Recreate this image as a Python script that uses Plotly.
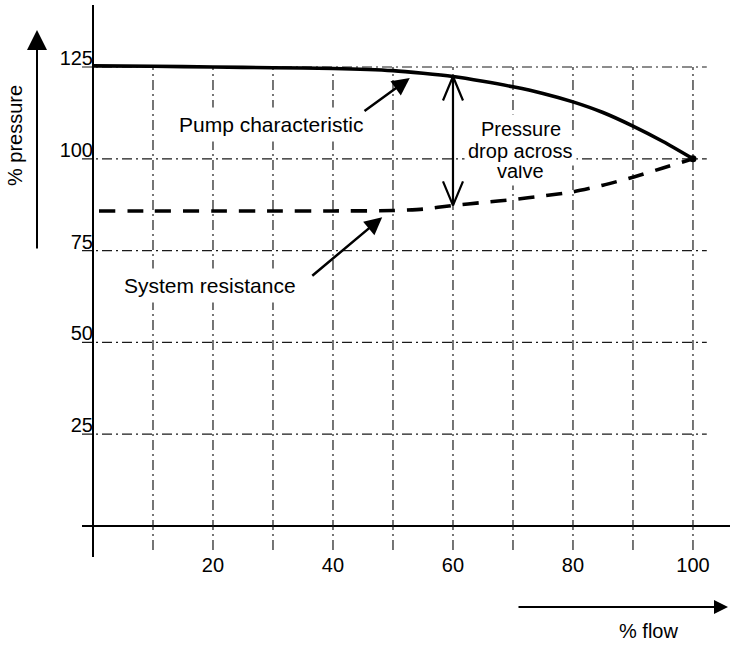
import plotly.graph_objects as go

# ---------------- data ----------------
FLOW_PUMP = [0, 10, 20, 30, 40, 50, 55, 60, 65, 70, 75, 80, 85, 90, 95, 100]
PRESSURE_PUMP = [125.3, 125.2, 125.0, 124.8, 124.6, 124.0, 123.3, 122.4, 121.1,
                 119.6, 117.8, 115.5, 112.6, 108.9, 104.7, 100.0]

FLOW_SYSTEM = [1, 10, 20, 30, 40, 50, 55, 60, 65, 70, 75, 80, 85, 90, 95, 100]
PRESSURE_SYSTEM = [85.8, 85.8, 85.8, 85.8, 85.8, 85.9, 86.3, 87.3, 88.1,
                   88.9, 89.9, 91.0, 92.8, 95.0, 97.5, 100.0]

X_TICKS = [20, 40, 60, 80, 100]
X_TICK_LABELS = ["20", "40", "60", "80", "100"]
Y_TICKS = [25, 50, 75, 100, 125]
Y_TICK_LABELS = ["25", "50", "75", "100", "125"]
X_GRID = [10, 20, 30, 40, 50, 60, 70, 80, 90, 100]
Y_GRID = [25, 50, 75, 100, 125]

VALVE_FLOW = 60

# ---------------- layout constants ----------------
W, H = 730, 647
ML, MR, MT, MB = 82, 0, 5, 90
PW, PH = W - ML - MR, H - MT - MB
X_RANGE = [-1.833, 106.17]
Y_RANGE = [-8.44, 141.88]
FONT = "Liberation Sans, Arial, sans-serif"


def px_to_y(py):
    # pixel row (page) -> y data value
    return Y_RANGE[1] - (py - MT) * (Y_RANGE[1] - Y_RANGE[0]) / PH


fig = go.Figure()

# dash-dot grid (extends slightly past the axes like the original)
gx, gy = [], []
for v in Y_GRID:
    gx += [X_RANGE[0], 102.3, None]
    gy += [v, v, None]
for v in X_GRID:
    gx += [v, v, None]
    gy += [-6.5, 125, None]
fig.add_trace(go.Scatter(x=gx, y=gy, mode="lines", hoverinfo="skip",
                         line=dict(color="#1a1a1a", width=1.2, dash="10px,4px,2px,4px")))

# pump characteristic
fig.add_trace(go.Scatter(x=FLOW_PUMP, y=PRESSURE_PUMP, mode="lines",
                         line=dict(color="black", width=3.6, shape="spline", smoothing=0.7),
                         name="Pump characteristic"))
fig.add_trace(go.Scatter(x=[FLOW_PUMP[-1]], y=[PRESSURE_PUMP[-1]], mode="markers",
                         marker=dict(color="black", size=7), hoverinfo="skip"))

# system resistance
fig.add_trace(go.Scatter(x=FLOW_SYSTEM, y=PRESSURE_SYSTEM, mode="lines",
                         line=dict(color="black", width=3.6, dash="16px,12px",
                                   shape="spline", smoothing=0.6),
                         name="System resistance"))

# double-headed arrow: pressure drop across valve
i_p = FLOW_PUMP.index(VALVE_FLOW)
i_s = FLOW_SYSTEM.index(VALVE_FLOW)
top = PRESSURE_PUMP[i_p]
bot = PRESSURE_SYSTEM[i_s]
hw = 10 / 6.0      # head half width (x units)
hl = 24 / 3.672    # head length (y units)
ax_, ay_ = [], []
ax_ += [VALVE_FLOW, VALVE_FLOW, None]
ay_ += [top, bot, None]
ax_ += [VALVE_FLOW - hw, VALVE_FLOW, VALVE_FLOW + hw, None]
ay_ += [top - hl, top, top - hl, None]
ax_ += [VALVE_FLOW - hw, VALVE_FLOW, VALVE_FLOW + hw]
ay_ += [bot + hl, bot, bot + hl]
fig.add_trace(go.Scatter(x=ax_, y=ay_, mode="lines", hoverinfo="skip",
                         line=dict(color="black", width=2.2)))


def label(x, y, text, size=20, **kw):
    d = dict(x=x, y=y, text=text, showarrow=False, xanchor="center", yanchor="middle",
             font=dict(size=size, color="black", family=FONT))
    d.update(kw)
    return d


BOX = dict(bgcolor="white", borderpad=5)

annotations = [
    # labels (white boxes mask the grid as in the original)
    label(29.7, px_to_y(124), "Pump characteristic", 21, xref="x", yref="y", **BOX),
    label(19.5, px_to_y(285), "System resistance", 21, xref="x", yref="y", **BOX),
    label(71.3, px_to_y(170.5), "valve", 20, xref="x", yref="y", bgcolor="white", borderpad=3),
    label(71.3, px_to_y(150.5), "drop across", 20, xref="x", yref="y", bgcolor="white", borderpad=3),
    label(71.3, px_to_y(128.5), "Pressure", 20, xref="x", yref="y", bgcolor="white", borderpad=3),
    # pointer arrows
    dict(x=52.8, y=122.0, ax=45.0, ay=112.7, xref="x", yref="y", axref="x", ayref="y",
         text="", showarrow=True, arrowhead=2, arrowwidth=2.5, arrowsize=1.4, arrowcolor="black"),
    dict(x=48.2, y=84.1, ax=36.3, ay=67.8, xref="x", yref="y", axref="x", ayref="y",
         text="", showarrow=True, arrowhead=2, arrowwidth=2.5, arrowsize=1.4, arrowcolor="black"),
    # axis direction arrows and titles
    dict(x=(37 - ML) / PW, y=(H - MB - 30) / PH, xref="paper", yref="paper",
         ax=0, ay=220, text="", showarrow=True, arrowhead=2, arrowwidth=2,
         arrowsize=2.0, arrowcolor="black"),
    dict(x=(728 - ML) / PW, y=(H - MB - 607) / PH, xref="paper", yref="paper",
         ax=-211, ay=0, text="", showarrow=True, arrowhead=2, arrowwidth=2,
         arrowsize=1.4, arrowcolor="black"),
    label((15 - ML) / PW, (H - MB - 136) / PH, "% pressure", 20,
          xref="paper", yref="paper", textangle=-90),
    label((648 - ML) / PW, (H - MB - 631) / PH, "% flow", 20,
          xref="paper", yref="paper"),
]

fig.update_layout(
    width=W, height=H,
    margin=dict(l=ML, r=MR, t=MT, b=MB, pad=0, autoexpand=False),
    paper_bgcolor="white", plot_bgcolor="white",
    showlegend=False,
    font=dict(family=FONT, size=20, color="black"),
    annotations=annotations,
    xaxis=dict(range=X_RANGE, showgrid=False, showline=False, ticks="",
               zeroline=True, zerolinecolor="black", zerolinewidth=2,
               tickvals=X_TICKS, ticktext=X_TICK_LABELS, automargin=False,
               ticklabelstandoff=-6,
               tickfont=dict(size=20, color="black", family=FONT)),
    yaxis=dict(range=Y_RANGE, showgrid=False, showline=False, ticks="",
               zeroline=True, zerolinecolor="black", zerolinewidth=2,
               tickvals=Y_TICKS, ticktext=Y_TICK_LABELS, automargin=False,
               ticklabelshift=-9, ticklabelstandoff=-12,
               tickfont=dict(size=20, color="black", family=FONT)),
)

fig.write_html("out.html", config={"displayModeBar": False},
               post_script="document.body.style.margin='0';")
